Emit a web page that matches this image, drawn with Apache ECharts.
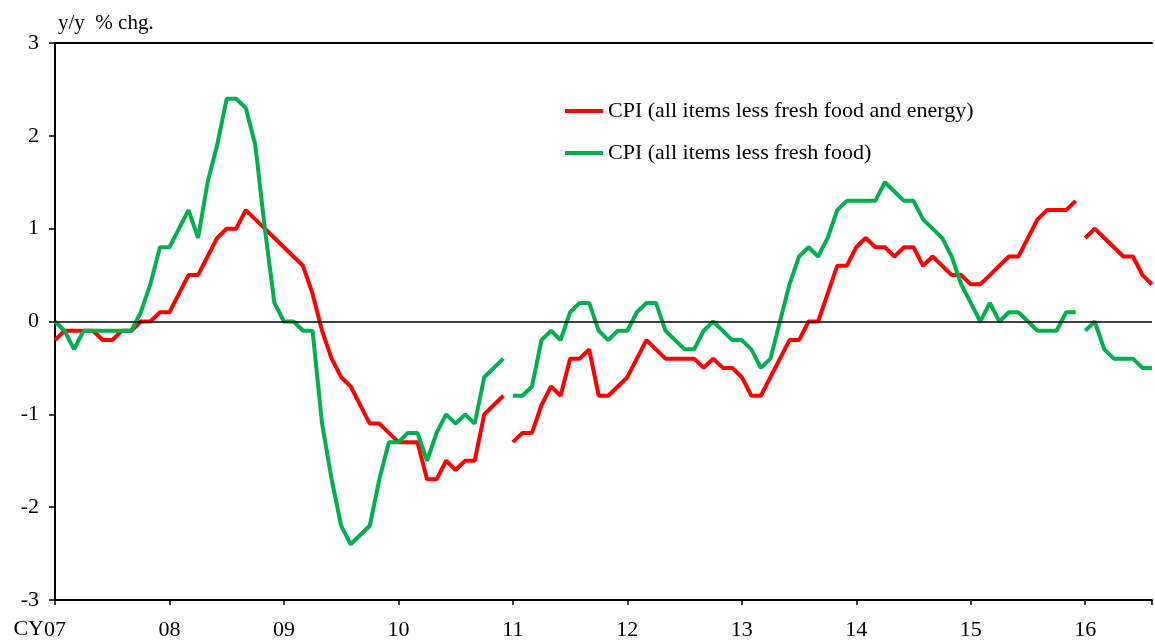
<!DOCTYPE html>
<html>
<head>
<meta charset="utf-8">
<script src="https://cdn.jsdelivr.net/npm/echarts@6/dist/echarts.min.js"></script>
<style>
  html, body { margin: 0; padding: 0; background: #fff; }
  #chartDiv { width: 1155px; height: 641px; }
</style>
</head>
<body>
<div id="chartDiv"></div>
<script>
// year labels, one per January (month index 0 = Jan 2007)
var yearLabels = ['07', '08', '09', '10', '11', '12', '13', '14', '15', '16'];
var nameCore = 'CPI (all items less fresh food and energy)';
var nameFresh = 'CPI (all items less fresh food)';

// CPI less fresh food and energy, y/y % chg. (three base-year segments)
var coreOld = [-0.2, -0.1, -0.1, -0.1, -0.1, -0.2, -0.2, -0.1, -0.1, 0.0, 0.0, 0.1,
    0.1, 0.3, 0.5, 0.5, 0.7, 0.9, 1.0, 1.0, 1.2, 1.1, 1.0, 0.9,
    0.8, 0.7, 0.6, 0.3, -0.1, -0.4, -0.6, -0.7, -0.9, -1.1, -1.1, -1.2,
    -1.3, -1.3, -1.3, -1.7, -1.7, -1.5, -1.6, -1.5, -1.5, -1.0, -0.9, -0.8];
var coreMid = [-1.3, -1.2, -1.2, -0.9, -0.7, -0.8, -0.4, -0.4, -0.3, -0.8, -0.8, -0.7,
    -0.6, -0.4, -0.2, -0.3, -0.4, -0.4, -0.4, -0.4, -0.5, -0.4, -0.5, -0.5,
    -0.6, -0.8, -0.8, -0.6, -0.4, -0.2, -0.2, 0.0, 0.0, 0.3, 0.6, 0.6,
    0.8, 0.9, 0.8, 0.8, 0.7, 0.8, 0.8, 0.6, 0.7, 0.6, 0.5, 0.5,
    0.4, 0.4, 0.5, 0.6, 0.7, 0.7, 0.9, 1.1, 1.2, 1.2, 1.2, 1.3];
var coreNew = [0.9, 1.0, 0.9, 0.8, 0.7, 0.7, 0.5, 0.4];

// CPI less fresh food, y/y % chg.
var freshOld = [0.0, -0.1, -0.3, -0.1, -0.1, -0.1, -0.1, -0.1, -0.1, 0.1, 0.4, 0.8,
    0.8, 1.0, 1.2, 0.9, 1.5, 1.9, 2.4, 2.4, 2.3, 1.9, 1.0, 0.2,
    0.0, 0.0, -0.1, -0.1, -1.1, -1.7, -2.2, -2.4, -2.3, -2.2, -1.7, -1.3,
    -1.3, -1.2, -1.2, -1.5, -1.2, -1.0, -1.1, -1.0, -1.1, -0.6, -0.5, -0.4];
var freshMid = [-0.8, -0.8, -0.7, -0.2, -0.1, -0.2, 0.1, 0.2, 0.2, -0.1, -0.2, -0.1,
    -0.1, 0.1, 0.2, 0.2, -0.1, -0.2, -0.3, -0.3, -0.1, 0.0, -0.1, -0.2,
    -0.2, -0.3, -0.5, -0.4, 0.0, 0.4, 0.7, 0.8, 0.7, 0.9, 1.2, 1.3,
    1.3, 1.3, 1.3, 1.5, 1.4, 1.3, 1.3, 1.1, 1.0, 0.9, 0.7, 0.4,
    0.2, 0.0, 0.2, 0.0, 0.1, 0.1, 0.0, -0.1, -0.1, -0.1, 0.1, 0.1];
var freshNew = [-0.1, 0.0, -0.3, -0.4, -0.4, -0.4, -0.5, -0.5];

var segStart = [0, 48, 108];
var redColor = '#ff0000';
var greenColor = '#00b050';
var fontName = '"Liberation Serif", "Times New Roman", serif';

function toPoints(arr, start) {
    return arr.map(function (v, k) { return [start + k, v]; });
}

function makeLine(name, arr, start, color) {
    return {
        type: 'line',
        name: name,
        data: toPoints(arr, start),
        symbol: 'none',
        lineStyle: { color: color, width: 4 },
        itemStyle: { color: color },
        z: color === greenColor ? 3 : 2
    };
}

var chart = echarts.init(document.getElementById('chartDiv'));

var series = [
    makeLine(nameCore, coreOld, segStart[0], redColor),
    makeLine(nameCore, coreMid, segStart[1], redColor),
    makeLine(nameCore, coreNew, segStart[2], redColor),
    makeLine(nameFresh, freshOld, segStart[0], greenColor),
    makeLine(nameFresh, freshMid, segStart[1], greenColor),
    makeLine(nameFresh, freshNew, segStart[2], greenColor)
];
// zero line
series[0].markLine = {
    silent: true,
    symbol: 'none',
    label: { show: false },
    lineStyle: { color: '#000', width: 1.5, type: 'solid' },
    data: [{ yAxis: 0 }]
};

var option = {
    animation: false,
    backgroundColor: '#fff',
    textStyle: { fontFamily: fontName, color: '#000' },
    grid: { left: 55, right: 0, top: 43, bottom: 38 },
    legend: {
        data: [nameCore, nameFresh],
        orient: 'vertical',
        left: 560,
        top: 95,
        icon: 'rect',
        itemWidth: 38,
        itemHeight: 4,
        itemGap: 20,
        textStyle: { fontFamily: fontName, fontSize: 22, color: '#000' }
    },
    xAxis: [
        {
            type: 'value',
            min: 0,
            max: 115,
            interval: 12,
            axisLine: { onZero: false, lineStyle: { color: '#000', width: 2 } },
            axisTick: { inside: false, length: 5, lineStyle: { color: '#000', width: 1.5 } },
            splitLine: { show: false },
            axisLabel: {
                margin: 19,
                fontFamily: fontName,
                fontSize: 22,
                color: '#000',
                formatter: function (v) {
                    return v % 12 === 0 ? yearLabels[v / 12] : '';
                }
            }
        },
        {
            type: 'value',
            position: 'top',
            min: 0,
            max: 115,
            axisLine: { show: true, onZero: false, lineStyle: { color: '#000', width: 2 } },
            axisTick: { show: false },
            axisLabel: { show: false },
            splitLine: { show: false }
        }
    ],
    yAxis: {
        type: 'value',
        min: -3,
        max: 3,
        interval: 1,
        name: 'y/y  % chg.',
        nameLocation: 'end',
        nameGap: 20,
        nameTextStyle: { fontFamily: fontName, fontSize: 21, color: '#000', align: 'left', verticalAlign: 'middle', padding: [0, 0, 0, 3] },
        axisLine: { show: true, onZero: false, lineStyle: { color: '#000', width: 2 } },
        axisTick: { show: true, inside: false, length: 6, lineStyle: { color: '#000', width: 1.5 } },
        splitLine: { show: false },
        axisLabel: { margin: 16, fontFamily: fontName, fontSize: 22, color: '#000' }
    },
    graphic: [
        {
            type: 'text',
            x: 44,
            y: 629,
            style: { text: 'CY', font: '22px ' + fontName, fill: '#000', textAlign: 'right', textVerticalAlign: 'middle' }
        }
    ],
    series: series
};

chart.setOption(option);
</script>
</body>
</html>
